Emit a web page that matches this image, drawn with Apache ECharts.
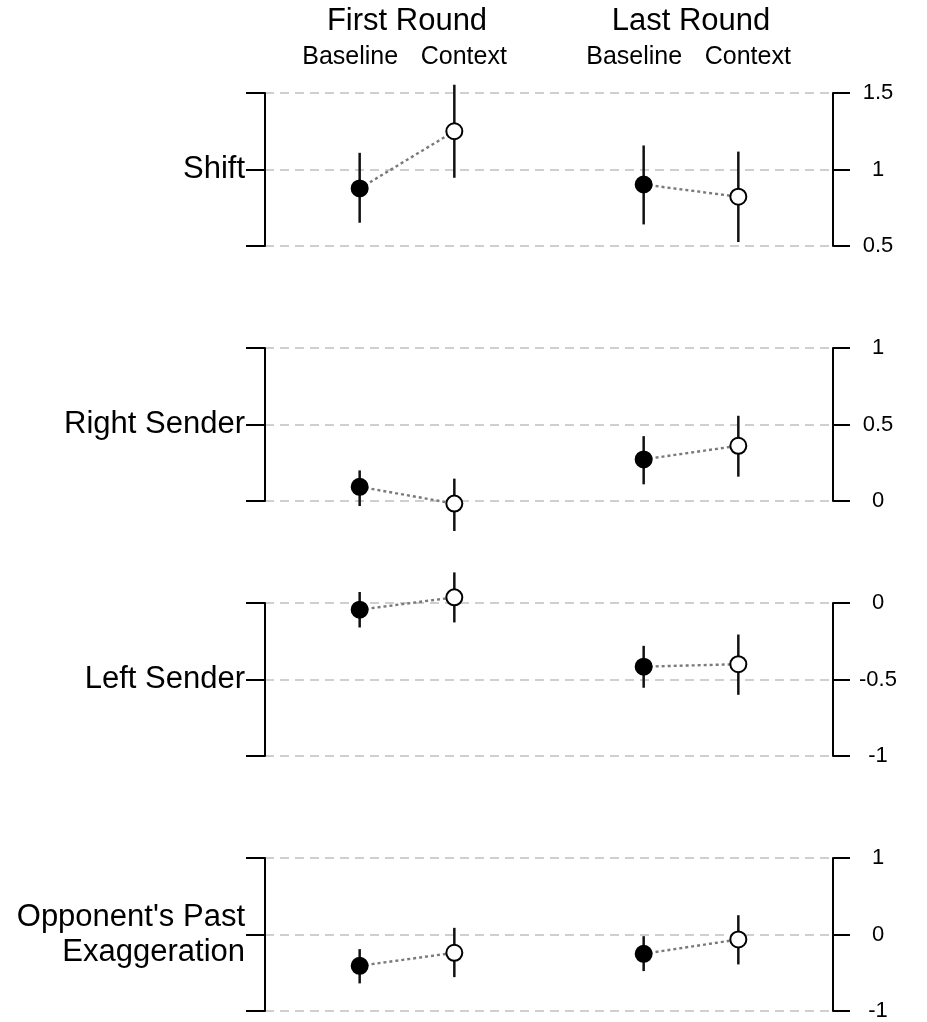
<!DOCTYPE html>
<html>
<head>
<meta charset="utf-8">
<script src="https://cdn.jsdelivr.net/npm/echarts@6/dist/echarts.min.js"></script>
<style>
  html, body { margin: 0; padding: 0; background: #fff; }
  #chart { width: 927px; height: 1022px; }
</style>
</head>
<body>
<div id="chart"></div>
<script>
// Panels (one per coefficient) and their axis ranges
const panelNames = ['Shift', 'Right Sender', 'Left Sender', "Opponent's Past\nExaggeration"];
const axisMin = [0.5, 0, -1, -1];
const axisMax = [1.5, 1, 0, 1];
const axisStep = [0.5, 0.5, 0.5, 1];

// Conditions: x positions on a 0..6 scale
const roundNames = ['First Round', 'Last Round'];
const conditionNames = ['Baseline', 'Context'];
const conditionX = [1, 2, 4, 5]; // FR Baseline, FR Context, LR Baseline, LR Context

// Estimates and interval bounds, order: FR Baseline, FR Context, LR Baseline, LR Context
const shiftMean = [0.876, 1.25, 0.902, 0.822];
const shiftLow = [0.652, 0.946, 0.641, 0.526];
const shiftHigh = [1.109, 1.554, 1.157, 1.117];

const rightMean = [0.093, -0.017, 0.272, 0.361];
const rightLow = [-0.033, -0.196, 0.109, 0.159];
const rightHigh = [0.200, 0.146, 0.424, 0.557];

const leftMean = [-0.044, 0.037, -0.416, -0.400];
const leftLow = [-0.160, -0.127, -0.554, -0.600];
const leftHigh = [0.072, 0.200, -0.280, -0.206];

const oppMean = [-0.409, -0.239, -0.252, -0.065];
const oppLow = [-0.639, -0.557, -0.478, -0.391];
const oppHigh = [-0.191, 0.087, -0.022, 0.252];

const means = [shiftMean, rightMean, leftMean, oppMean];
const lows = [shiftLow, rightLow, leftLow, oppLow];
const highs = [shiftHigh, rightHigh, leftHigh, oppHigh];

const FONT = '"Liberation Sans", Arial, sans-serif';
const gridTops = [93, 348, 603, 858];
const gridHeight = 153;

const grids = [], xAxes = [], yAxes = [], series = [];

panelNames.forEach((name, p) => {
  grids.push({ left: 265, right: 94, top: gridTops[p], height: gridHeight });
  xAxes.push({ type: 'value', gridIndex: p, min: 0, max: 6, show: false });
  const mid = (axisMin[p] + axisMax[p]) / 2;
  // left axis: bracket with the panel name at the middle tick
  yAxes.push({
    type: 'value', gridIndex: p, position: 'left',
    min: axisMin[p], max: axisMax[p], interval: axisStep[p],
    axisLine: { show: true, lineStyle: { color: '#000', width: 2 } },
    axisTick: { show: true, inside: false, length: 19, lineStyle: { color: '#000', width: 2 } },
    axisLabel: {
      margin: 20, fontFamily: FONT, fontSize: 31, color: '#000', align: 'right',
      lineHeight: 35,
      formatter: v => (Math.abs(v - mid) < 1e-9 ? name : '')
    },
    splitLine: { show: true, lineStyle: { color: '#cfcfcf', width: 2, type: [9, 6] } }
  });
  // right axis: numeric scale
  yAxes.push({
    type: 'value', gridIndex: p, position: 'right',
    min: axisMin[p], max: axisMax[p], interval: axisStep[p],
    axisLine: { show: true, lineStyle: { color: '#000', width: 2 } },
    axisTick: { show: true, inside: false, length: 17, lineStyle: { color: '#000', width: 2 } },
    axisLabel: {
      margin: 45, fontFamily: FONT, fontSize: 22, color: '#000', align: 'center',
      formatter: v => String(Math.round(v * 10) / 10)
    },
    splitLine: { show: false }
  });

  const yIdx = p * 2;
  // interval bars
  series.push({
    type: 'custom', xAxisIndex: p, yAxisIndex: yIdx, clip: false, z: 2,
    data: conditionX.map((x, i) => [x, lows[p][i], highs[p][i]]),
    renderItem: (params, api) => {
      const a = api.coord([api.value(0), api.value(1)]);
      const b = api.coord([api.value(0), api.value(2)]);
      return {
        type: 'line',
        shape: { x1: a[0], y1: a[1], x2: b[0], y2: b[1] },
        style: { stroke: '#111', lineWidth: 2.5 }
      };
    }
  });
  // baseline -> context connectors with point estimates, one per round
  [0, 1].forEach(r => {
    series.push({
      type: 'line', xAxisIndex: p, yAxisIndex: yIdx, clip: false, z: 3,
      symbol: 'circle', symbolSize: 16, showSymbol: true, animation: false,
      lineStyle: { color: '#7a7a7a', width: 2.4, type: [3, 3] },
      data: [0, 1].map(c => {
        const i = r * 2 + c;
        return {
          value: [conditionX[i], means[p][i]],
          itemStyle: { color: c === 0 ? '#000' : '#fff', borderColor: '#000', borderWidth: 2 }
        };
      })
    });
  });
});

const chart = echarts.init(document.getElementById('chart'), null, { renderer: 'canvas' });
chart.setOption({
  animation: false,
  backgroundColor: '#fff',
  grid: grids, xAxis: xAxes, yAxis: yAxes, series: series
});

// Column headers placed on the first panel's x scale
const px = x => chart.convertToPixel({ xAxisIndex: 0 }, x);
const headers = [];
roundNames.forEach((rn, r) => {
  const x0 = conditionX[r * 2], x1 = conditionX[r * 2 + 1];
  headers.push({
    type: 'text', x: px((x0 + x1) / 2), y: 21,
    style: { text: rn, font: '31px ' + FONT, fill: '#000', textAlign: 'center', textVerticalAlign: 'middle' }
  });
  conditionNames.forEach((cn, c) => {
    const xv = c === 0 ? x0 - 0.1 : x1 + 0.1;
    headers.push({
      type: 'text', x: px(xv), y: 57,
      style: { text: cn, font: '25px ' + FONT, fill: '#000', textAlign: 'center', textVerticalAlign: 'middle' }
    });
  });
});
chart.setOption({ graphic: headers });
</script>
</body>
</html>
